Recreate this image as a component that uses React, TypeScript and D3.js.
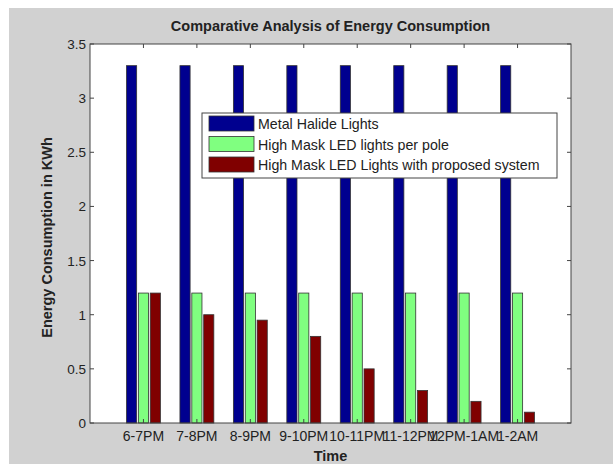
import React from "react";
import * as d3 from "d3";

const categories = ["6-7PM", "7-8PM", "8-9PM", "9-10PM", "10-11PM", "11-12PM", "12PM-1AM", "1-2AM"];
const seriesNames = ["Metal Halide Lights", "High Mask LED lights per pole", "High Mask LED Lights with proposed system"];
const metalHalide = [3.3, 3.3, 3.3, 3.3, 3.3, 3.3, 3.3, 3.3];
const ledPerPole = [1.2, 1.2, 1.2, 1.2, 1.2, 1.2, 1.2, 1.2];
const ledProposed = [1.2, 1.0, 0.95, 0.8, 0.5, 0.3, 0.2, 0.1];
const yTicks = [0, 0.5, 1, 1.5, 2, 2.5, 3, 3.5];
const colors = ["#00008f", "#80ff80", "#800000"];

export default function App() {
  const W = 613, H = 464;
  const left = 90, right = 571, top = 44, bottom = 423;
  const x = d3.scaleLinear().domain([0, 9]).range([left, right]);
  const y = d3.scaleLinear().domain([0, 3.5]).range([bottom, top]);
  const series = [metalHalide, ledPerPole, ledProposed];
  const offsets = [-0.222, 0, 0.222];
  const bw = x(0.19) - x(0);
  const font = "'Liberation Sans', Arial, sans-serif";
  const xTickVals = categories.map((_, i) => i + 1);

  return (
    <div style={{ position: "absolute", left: 0, top: 0 }}>
      <svg width={W} height={H} style={{ display: "block" }} fontFamily={font}>
        <rect x={0} y={0} width={W} height={H} fill="#ffffff" />
        <rect x={9} y={8} width={W - 9} height={H - 8} fill="#d1d1d1" />
        <rect x={left} y={top} width={right - left} height={bottom - top} fill="#ffffff" />
        {series.map((vals, s) =>
          vals.map((v, i) => (
            <rect
              key={`${s}-${i}`}
              x={x(i + 1 + offsets[s]) - bw / 2}
              y={y(v)}
              width={bw}
              height={y(0) - y(v)}
              fill={colors[s]}
              stroke="#333"
              strokeWidth={0.8}
            />
          ))
        )}
        <rect x={left} y={top} width={right - left} height={bottom - top} fill="none" stroke="#444" strokeWidth={1} />
        {yTicks.map((t) => (
          <g key={t}>
            <line x1={left} x2={left + 4} y1={y(t)} y2={y(t)} stroke="#444" />
            <line x1={right} x2={right - 4} y1={y(t)} y2={y(t)} stroke="#444" />
            <text x={left - 4} y={y(t) + 5} fontSize={13.5} textAnchor="end" fill="#222">{t}</text>
          </g>
        ))}
        {xTickVals.map((t, i) => (
          <g key={t}>
            <line x1={x(t)} x2={x(t)} y1={bottom} y2={bottom - 4} stroke="#444" />
            <line x1={x(t)} x2={x(t)} y1={top} y2={top + 4} stroke="#444" />
            <text x={x(t)} y={bottom + 18} fontSize={14} textAnchor="middle" fill="#222">{categories[i]}</text>
          </g>
        ))}
        <text x={(left + right) / 2} y={31} fontSize={14.5} fontWeight="bold" textAnchor="middle" fill="#222">
          Comparative Analysis of Energy Consumption
        </text>
        <text x={(left + right) / 2} y={461} fontSize={14.5} fontWeight="bold" textAnchor="middle" fill="#222">Time</text>
        <text
          transform={`translate(52,${(top + bottom) / 2 + 4}) rotate(-90)`}
          fontSize={14.5}
          fontWeight="bold"
          textAnchor="middle"
          fill="#222"
        >
          Energy Consumption in KWh
        </text>
        <g>
          <rect x={202} y={113} width={355} height={65} fill="#ffffff" stroke="#444" strokeWidth={1} />
          {seriesNames.map((n, i) => (
            <g key={n}>
              <rect x={209} y={116 + i * 20.5} width={45} height={15} fill={colors[i]} stroke="#333" strokeWidth={0.8} />
              <text x={258} y={129 + i * 20.5} fontSize={14.2} fill="#222">{n}</text>
            </g>
          ))}
        </g>
      </svg>
    </div>
  );
}
